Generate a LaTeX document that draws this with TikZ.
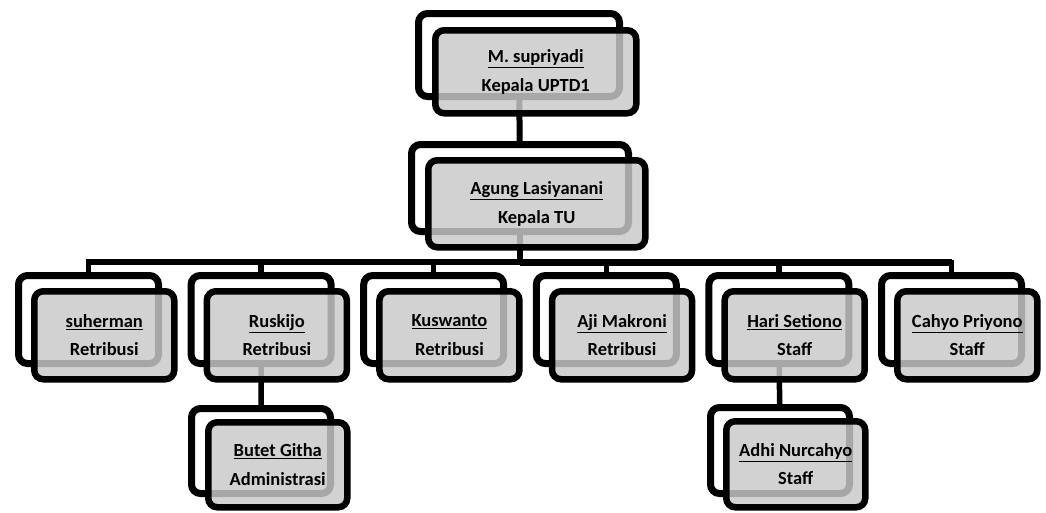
\documentclass[tikz,border=0pt]{standalone}
\usepackage{fontspec}
\setmainfont{Carlito}
\usetikzlibrary{shadows}
\pgfdeclarelayer{bg}
\pgfsetlayers{bg,main}
\tikzset{
  backbox/.style={draw=black, line width=7pt, fill=white, rounded corners=9pt,
    anchor=north west, inner sep=0pt,
    drop shadow={shadow xshift=-2pt, shadow yshift=-3pt, opacity=0.25, fill=black!50}},
  frontbox/.style={draw=black, line width=6.5pt, fill=black!21, fill opacity=0.83,
    text opacity=1, rounded corners=9pt, anchor=north west, inner sep=0pt,
    align=center, font=\bfseries\fontsize{18.5}{28.5}\selectfont},
  conn/.style={line width=5.5pt, line cap=rect},
  bus/.style={line width=7.5pt},
}
\newcommand{\person}[8]{% name, x, y, w, h, dx, dy, text
  \node[backbox, minimum width=#4pt, minimum height=#5pt] (#1b) at (#2,#3) {};
  \node[frontbox, minimum width=#4pt, minimum height=#5pt] (#1) at (#2+#6,#3+#7) {#8};
}
\begin{document}
\begin{tikzpicture}[x=1pt,y=-1pt]
\useasboundingbox (0,0) rectangle (1046,512);
% nodes
\person{top}{415}{10}{201}{83}{17}{17}{\underline{M. supriyadi}\\Kepala UPTD1}
\person{tu}{408}{141}{217}{87}{17}{16}{\underline{Agung Lasiyanani}\\Kepala TU}
\person{c1}{15}{272}{140}{88}{16}{16}{\underline{suherman}\\Retribusi}
\person{c2}{187.6}{272}{140}{88}{16}{16}{\underline{Ruskijo}\\Retribusi}
\person{c3}{360.2}{272}{140}{88}{16}{16}{\underline{Kuswanto}\\Retribusi}
\person{c4}{532.8}{272}{140}{88}{16}{16}{\underline{Aji Makroni}\\Retribusi}
\person{c5}{705.4}{272}{140}{88}{16}{16}{\underline{Hari Setiono}\\Staff}
\person{c6}{878}{272}{140}{88}{16}{16}{\underline{Cahyo Priyono}\\Staff}
\person{g1}{188}{405}{139}{85}{17}{14}{\underline{Butet Githa}\\Administrasi}
\person{g2}{707}{404}{139}{86}{16}{14}{\underline{Adhi Nurcahyo}\\Staff}
% connectors
\begin{pgfonlayer}{bg}
\coordinate (busL) at (0,261.5);
\coordinate (busR) at (0,262.5);
\draw[line width=6pt] (topb.center) -- (tub.center);
\draw[line width=6pt] (tub.center) -- (tub.center |- busL);
\draw[line width=6pt] (c1b.center |- busL) -- (tub.center |- busL);
\draw[bus] (tub.center |- busR) -- (c6b.center |- busR);
\foreach \c in {c1,c2,c3} { \draw[conn] (\c b.center |- busL) -- (\c b.center); }
\foreach \c in {c4,c5,c6} { \draw[conn] (\c b.center |- busR) -- (\c b.center); }
\draw[conn] (c2b.center) -- (g1b.center);
\draw[conn] (c5b.center) -- (g2b.center);
\end{pgfonlayer}
\end{tikzpicture}
\end{document}
